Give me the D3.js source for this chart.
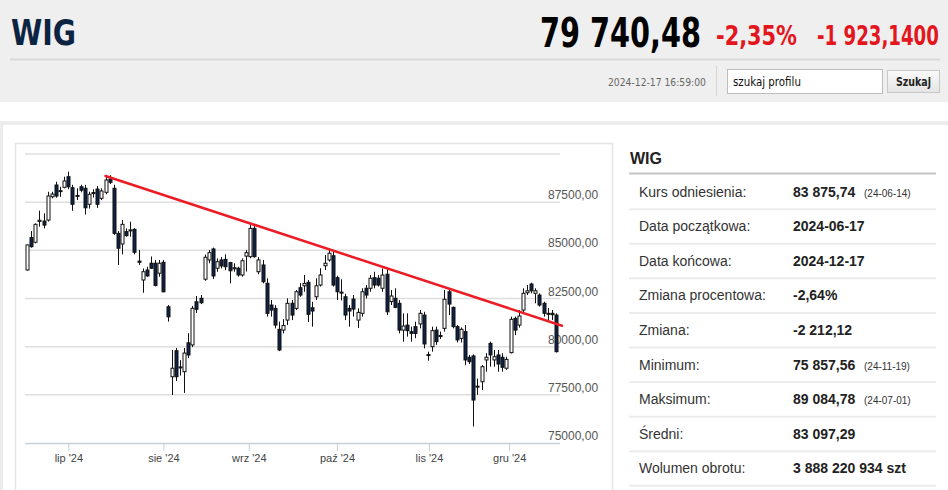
<!DOCTYPE html>
<html lang="pl">
<head>
  <meta charset="UTF-8">
  <title>WIG</title>
  <style>
    body {
      margin: 0;
      background: #fff;
      font-family: "Liberation Sans", Arial, sans-serif;
    }
    svg {
      display: block;
    }
    .grid line {
      stroke: #dedede;
      stroke-width: 1.5;
    }
    .ylabel {
      font-size: 12px;
      fill: #555;
    }
    .xaxis text {
      font-family: "Liberation Sans", Arial, sans-serif;
      font-size: 11px;
      fill: #444;
    }
    .xaxis line {
      stroke: #c3d1df;
    }
    .stat-label {
      font-size: 14px;
      fill: #333;
    }
    .stat-value {
      font-size: 14px;
      font-weight: bold;
      fill: #222;
    }
    .stat-note {
      font-size: 10px;
      fill: #333;
    }
  </style>
  <script src="https://d3js.org/d3.v7.min.js"></script>
</head>
<body>
  <svg id="page" width="948" height="490"></svg>

  <script>
    // trading days shown on the chart
    const dates = [
      "2024-06-17","2024-06-18","2024-06-19","2024-06-20","2024-06-21","2024-06-24","2024-06-25","2024-06-26","2024-06-27","2024-06-28",
      "2024-07-01","2024-07-02","2024-07-03","2024-07-04","2024-07-05","2024-07-08","2024-07-09","2024-07-10","2024-07-11","2024-07-12",
      "2024-07-15","2024-07-16","2024-07-17","2024-07-18","2024-07-19","2024-07-22","2024-07-23","2024-07-24","2024-07-25","2024-07-26",
      "2024-07-29","2024-07-30","2024-07-31","2024-08-01","2024-08-02","2024-08-05","2024-08-06","2024-08-07","2024-08-08","2024-08-09",
      "2024-08-12","2024-08-13","2024-08-14","2024-08-16","2024-08-19","2024-08-20","2024-08-21","2024-08-22","2024-08-23","2024-08-26",
      "2024-08-27","2024-08-28","2024-08-29","2024-08-30","2024-09-02","2024-09-03","2024-09-04","2024-09-05","2024-09-06","2024-09-09",
      "2024-09-10","2024-09-11","2024-09-12","2024-09-13","2024-09-16","2024-09-17","2024-09-18","2024-09-19","2024-09-20","2024-09-23",
      "2024-09-24","2024-09-25","2024-09-26","2024-09-27","2024-09-30","2024-10-01","2024-10-02","2024-10-03","2024-10-04","2024-10-07",
      "2024-10-08","2024-10-09","2024-10-10","2024-10-11","2024-10-14","2024-10-15","2024-10-16","2024-10-17","2024-10-18","2024-10-21",
      "2024-10-22","2024-10-23","2024-10-24","2024-10-25","2024-10-28","2024-10-29","2024-10-30","2024-10-31","2024-11-04","2024-11-05",
      "2024-11-06","2024-11-07","2024-11-08","2024-11-12","2024-11-13","2024-11-14","2024-11-15","2024-11-18","2024-11-19","2024-11-20",
      "2024-11-21","2024-11-22","2024-11-25","2024-11-26","2024-11-27","2024-11-28","2024-11-29","2024-12-02","2024-12-03","2024-12-04",
      "2024-12-05","2024-12-06","2024-12-09","2024-12-10","2024-12-11","2024-12-12","2024-12-13","2024-12-16","2024-12-17"
    ];

    const open = [
      83980,85660,85420,86500,86520,86570,87780,88390,88050,88270,
      88820,88250,87800,88300,88220,87390,87950,88180,87700,88010,
      88700,88220,85880,85330,85970,86020,86090,84440,83460,83980,
      84330,84330,83810,84380,82070,78440,79790,78900,78700,80200,
      80090,82330,82510,83500,84500,85070,84070,84500,84530,84360,
      84040,84070,83720,84700,84670,86140,83890,84240,83290,82160,
      81990,80900,80860,81380,82250,81990,83060,83160,83340,82020,
      82590,83200,84200,84500,84720,83580,82830,82590,81990,82470,
      81380,81730,83030,83030,83580,83550,83030,83760,82340,82510,
      82250,80860,81120,80780,81040,81180,81640,79590,80000,80860,
      80530,80950,82850,82040,81040,80430,80780,79450,79520,77930,
      78180,79310,80170,79310,79570,79450,78880,79690,81470,81120,
      81900,82800,83250,82770,82680,82250,81700,81730,81640
    ];

    const high = [
      85300,86000,86400,87060,86920,88040,88040,88560,88300,88820,
      89085,88400,88220,88400,88400,88040,88170,88340,88220,88820,
      88900,88400,86000,86570,86140,86490,86150,85020,84060,84150,
      84680,84500,84500,84500,82160,79830,79930,79300,79930,80700,
      82110,82630,82680,84780,85020,85140,84580,84650,84790,84400,
      84330,84150,84580,85020,86310,86310,84650,84500,83550,82420,
      82160,81300,81430,82510,82420,82940,83300,83720,83460,82330,
      83550,84070,84760,85020,85020,83680,83500,82750,82160,82680,
      81990,83030,83200,83720,83890,83720,84060,84060,82940,83030,
      82420,81730,81730,81040,81300,81900,81810,79740,81040,81040,
      80780,82940,83030,82080,81120,81000,81120,79570,79600,78350,
      79050,79660,80260,79830,79830,79660,79480,81560,81560,81900,
      83030,83200,83320,83030,82770,82330,82000,81900,81730
    ];

    const low = [
      83950,85140,85360,86230,86140,86490,87700,87730,87780,88220,
      88170,87050,87610,88010,86860,87170,87740,87200,87610,87910,
      88440,85800,84240,84790,85710,85710,84790,84240,82800,83630,
      84030,83130,83630,82820,81300,77490,78220,78500,77600,79410,
      79980,81750,82210,83420,84330,83510,83890,84060,83970,83290,
      83890,83630,83630,83900,84590,84620,83760,83290,81560,81560,
      80950,79770,80690,81120,81380,81900,82590,82850,81280,81040,
      82420,83120,83980,84410,83120,82420,82400,81380,81040,81560,
      80970,81560,82500,82850,83030,83120,82850,81640,82160,82000,
      80690,80260,80520,80260,80440,80950,79910,79270,79740,80090,
      80400,80780,81640,80950,80220,80220,79040,79100,75858,77500,
      77750,78700,78960,78960,78700,78700,78800,79650,80600,80990,
      81710,82680,82770,82250,82080,81560,81380,81380,79700
    ];

    const close = [
      85280,85190,86350,86560,86310,87820,87920,87820,88100,88600,
      88300,87390,87850,88120,87210,87910,88000,87390,88080,88650,
      88530,85880,85110,86350,85760,86060,84900,84380,83890,83670,
      84070,83180,84330,82850,81550,78880,78440,78950,79670,79570,
      81990,81940,82280,84640,84880,83670,84410,84190,84150,83940,
      84100,83720,84460,84880,86140,84670,84500,83370,81730,81900,
      81120,79830,81100,82250,81640,82850,82680,83280,81680,81850,
      83160,83720,84330,84850,83200,82850,82800,81640,81850,81950,
      81780,82850,82680,83550,83200,83200,83720,81810,82630,82040,
      80860,81070,80830,80690,80690,81730,80140,79540,80830,80260,
      80580,82460,82210,81040,80350,80900,79310,79220,77230,77950,
      78960,79450,79570,79480,79100,78930,79340,81420,80860,81590,
      82770,82900,82900,82900,82160,81730,81730,81660,79740
    ];

    const monthNames = ["lip", "sie", "wrz", "paź", "lis", "gru"];
    const yTicks = [75000, 77500, 80000, 82500, 85000, 87500, 90000];

    // hand-drawn resistance line
    const trendDates = ["2024-07-12", "2024-12-17"];
    const trendValues = [88860, 81190];

    const statLabels = ["Kurs odniesienia:", "Data początkowa:", "Data końcowa:", "Zmiana procentowa:",
      "Zmiana:", "Minimum:", "Maksimum:", "Średni:", "Wolumen obrotu:"];
    const statValues = ["83 875,74", "2024-06-17", "2024-12-17", "-2,64%",
      "-2 212,12", "75 857,56", "89 084,78", "83 097,29", "3 888 220 934 szt"];
    const statNotes = ["(24-06-14)", "", "", "", "", "(24-11-19)", "(24-07-01)", "", ""];

    const svg = d3.select("#page");
    const narrow = '"Liberation Sans Narrow", "Arial Narrow", "DejaVu Sans Condensed", sans-serif';

    // narrow text: draw at natural size, then squeeze horizontally to the wanted width
    function squeezed(x, y, s, size, color, len, opts = {}) {
      const el = svg.append("text")
        .attr("font-family", narrow)
        .attr("font-weight", opts.bold ? "bold" : "normal")
        .attr("font-size", size)
        .attr("fill", color)
        .text(s);
      const natural = el.node().getComputedTextLength();
      const sx = Math.min(1, len / natural);
      const x0 = opts.middle ? x - len / 2 : x;
      el.attr("transform", `translate(${x0},${y}) scale(${sx},1)`);
      return el;
    }

    // ---- header band ----
    svg.append("rect").attr("width", 948).attr("height", 102).attr("fill", "#efefef");
    svg.append("line")
      .attr("x1", 10).attr("x2", 940).attr("y1", 59.5).attr("y2", 59.5)
      .attr("stroke", "#d9d9d9").attr("stroke-width", 2);

    squeezed(11, 45, "WIG", 35, "#0c2442", 65, { bold: true });
    squeezed(540, 47, "79 740,48", 40, "#000", 161, { bold: true });
    squeezed(716, 45, "-2,35%", 26, "#e3161e", 81, { bold: true });
    squeezed(817, 45, "-1 923,1400", 26, "#e3161e", 122, { bold: true });

    squeezed(608, 86, "2024-12-17 16:59:00", 11, "#666", 98);

    svg.append("line")
      .attr("x1", 716.5).attr("x2", 716.5).attr("y1", 66).attr("y2", 96)
      .attr("stroke", "#d4d4d4");

    svg.append("rect")
      .attr("x", 727.5).attr("y", 69.5).attr("width", 155).attr("height", 24)
      .attr("fill", "#fff").attr("stroke", "#bdbdbd");
    squeezed(733, 86, "szukaj profilu", 13, "#111", 68);

    const grad = svg.append("defs").append("linearGradient")
      .attr("id", "btn").attr("x1", 0).attr("x2", 0).attr("y1", 0).attr("y2", 1);
    grad.append("stop").attr("offset", "0%").attr("stop-color", "#fafafa");
    grad.append("stop").attr("offset", "100%").attr("stop-color", "#e4e4e4");
    svg.append("rect")
      .attr("x", 887.5).attr("y", 70.5).attr("width", 52).attr("height", 22)
      .attr("fill", "url(#btn)").attr("stroke", "#c8c8c8");
    squeezed(913.5, 86, "Szukaj", 12, "#222", 35, { bold: true, middle: true });

    // ---- content frame ----
    svg.append("rect").attr("x", 0).attr("y", 121).attr("width", 948).attr("height", 4).attr("fill", "#ececec");
    svg.append("rect").attr("x", 0).attr("y", 121).attr("width", 3).attr("height", 369).attr("fill", "#ececec");
    svg.append("rect")
      .attr("x", 15.5).attr("y", 143.5).attr("width", 597).attr("height", 360)
      .attr("fill", "#fff").attr("stroke", "#e4e4e4").attr("stroke-width", 1.5);

    // ---- candlestick chart ----
    const plotLeft = 25, plotRight = 560, plotTop = 154, plotBottom = 443;
    const parse = d3.timeParse("%Y-%m-%d");
    const t = dates.map(parse);

    const xIdx = d3.scaleLinear().domain([0, dates.length - 1]).range([27, 556]);
    // piecewise scale: calendar time -> candle slot (used for month ticks)
    const xTime = d3.scaleLinear().domain(t).range(t.map((d, i) => xIdx(i)));
    const y = d3.scaleLinear().domain([75000, 90000]).range([plotBottom, plotTop]);

    const grid = svg.append("g").attr("class", "grid");
    grid.selectAll("line")
      .data(yTicks.filter(v => v > 75000))
      .join("line")
      .attr("x1", plotLeft).attr("x2", plotRight)
      .attr("y1", d => y(d)).attr("y2", d => y(d));

    const fmt = d3.format(".2f");
    svg.append("g").selectAll("text")
      .data(yTicks.filter(v => v < 90000))
      .join("text")
      .attr("class", "ylabel")
      .attr("x", 548)
      .attr("y", d => y(d) - 3)
      .text(d => fmt(d).replace(".", ","));

    const monthStarts = d3.timeMonth.range(d3.timeMonth.ceil(t[0]), t[t.length - 1]);
    const xAxis = d3.axisBottom(xTime)
      .tickValues(monthStarts)
      .tickSize(8)
      .tickPadding(3)
      .tickFormat((d, i) => `${monthNames[i]} '24`);
    const ax = svg.append("g")
      .attr("class", "xaxis")
      .attr("transform", `translate(0,${plotBottom})`)
      .call(xAxis);
    ax.select(".domain").remove();
    ax.append("line")
      .attr("x1", plotLeft).attr("x2", plotRight)
      .attr("y1", 0.5).attr("y2", 0.5)
      .attr("stroke", "#c3d1df").attr("stroke-width", 1.5);

    svg.append("defs").append("clipPath").attr("id", "plotClip")
      .append("rect")
      .attr("x", plotLeft).attr("y", plotTop - 5)
      .attr("width", plotRight - plotLeft + 2).attr("height", plotBottom - plotTop + 5);

    const candles = svg.append("g").attr("clip-path", "url(#plotClip)");
    const idx = d3.range(dates.length);

    candles.selectAll("line.wick")
      .data(idx)
      .join("line")
      .attr("class", "wick")
      .attr("x1", i => Math.round(xIdx(i)) + 0.5)
      .attr("x2", i => Math.round(xIdx(i)) + 0.5)
      .attr("y1", i => y(high[i]))
      .attr("y2", i => y(low[i]))
      .attr("stroke", "#111")
      .attr("stroke-width", 1);

    candles.selectAll("rect.body")
      .data(idx)
      .join("rect")
      .attr("class", "body")
      .attr("x", i => Math.round(xIdx(i)) - 1)
      .attr("width", 3)
      .attr("y", i => y(Math.max(open[i], close[i])))
      .attr("height", i => Math.max(1, Math.abs(y(open[i]) - y(close[i]))))
      .attr("fill", i => close[i] >= open[i] ? "#fff" : "#0e2246")
      .attr("stroke", "#111")
      .attr("stroke-width", 1);

    // trend line, extended to the right edge of the plot
    const tx0 = xTime(parse(trendDates[0])), ty0 = y(trendValues[0]);
    const tx1 = xTime(parse(trendDates[1])), ty1 = y(trendValues[1]);
    const slope = (ty1 - ty0) / (tx1 - tx0);
    const txEnd = plotRight + 2;
    svg.append("line")
      .attr("x1", tx0).attr("y1", ty0)
      .attr("x2", txEnd).attr("y2", ty0 + slope * (txEnd - tx0))
      .attr("stroke", "#ec1c24")
      .attr("stroke-width", 2.5)
      .attr("stroke-linecap", "round");

    // ---- statistics table ----
    const side = svg.append("g");
    side.append("text")
      .attr("x", 630).attr("y", 164)
      .attr("font-size", 16).attr("font-weight", "bold").attr("fill", "#222")
      .text("WIG");
    side.append("line")
      .attr("x1", 629).attr("x2", 936).attr("y1", 173.5).attr("y2", 173.5)
      .attr("stroke", "#c4c4c4").attr("stroke-width", 2);

    const rowY = d3.scaleLinear().domain([0, statLabels.length - 1]).range([191.7, 468.3]);
    const rows = side.selectAll("g.row")
      .data(statLabels)
      .join("g")
      .attr("class", "row")
      .attr("transform", (d, i) => `translate(0,${rowY(i)})`);

    rows.append("line")
      .attr("x1", 629).attr("x2", 936).attr("y1", 17.5).attr("y2", 17.5)
      .attr("stroke", "#ececec").attr("stroke-width", 2);
    rows.append("text")
      .attr("class", "stat-label")
      .attr("x", 639).attr("y", 5)
      .text(d => d);
    rows.append("text")
      .attr("class", "stat-value")
      .attr("x", 793).attr("y", 5)
      .text((d, i) => statValues[i]);
    rows.append("text")
      .attr("class", "stat-note")
      .attr("x", 864).attr("y", 5)
      .text((d, i) => statNotes[i]);
  </script>
</body>
</html>
